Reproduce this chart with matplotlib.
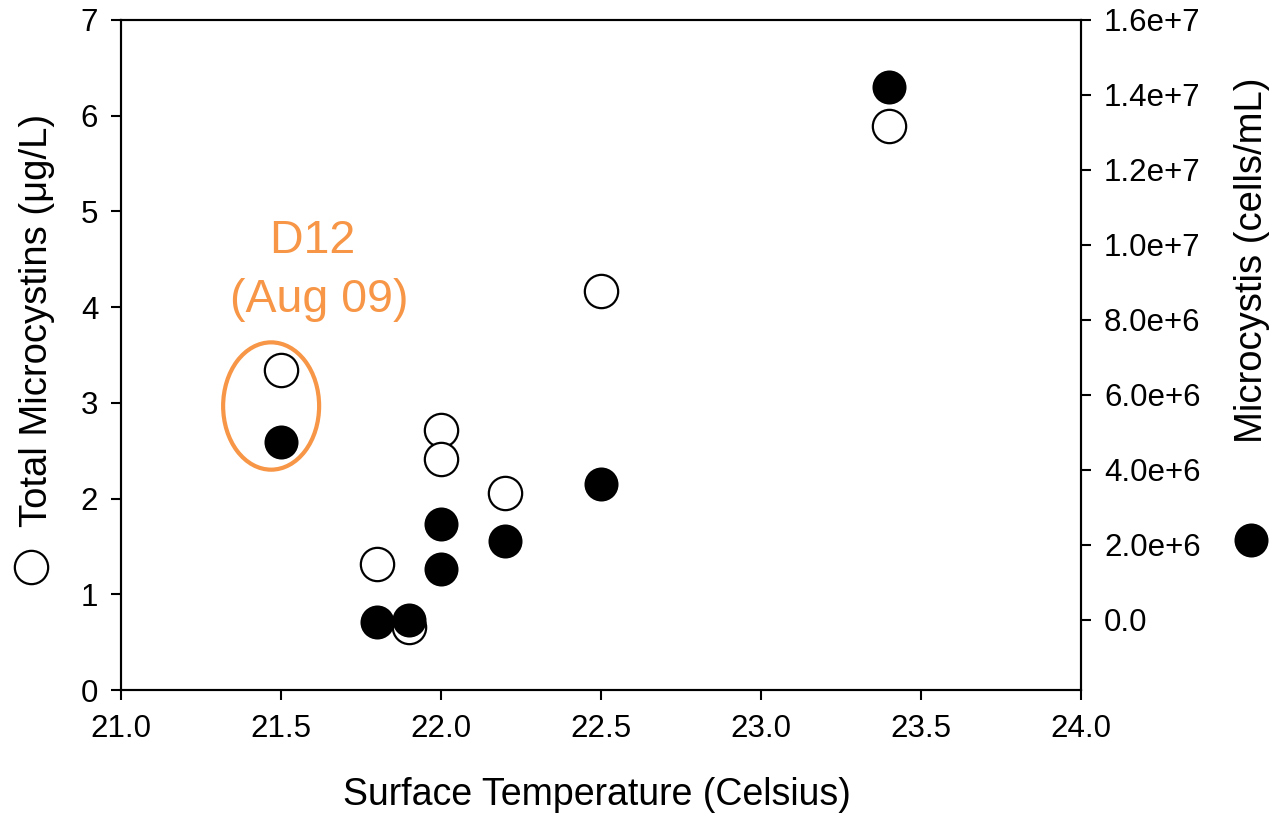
import numpy as np
import matplotlib
matplotlib.use('Agg')
import matplotlib.pyplot as plt
from matplotlib.patches import Ellipse
from matplotlib.lines import Line2D
from matplotlib.ticker import FuncFormatter

plt.rcParams['font.family'] = ['Liberation Sans', 'DejaVu Sans']

# Data
temp_mc = [21.5, 21.8, 21.9, 22.0, 22.0, 22.2, 22.5, 23.4]
microcystins = [3.34, 1.32, 0.66, 2.72, 2.41, 2.06, 4.17, 5.89]  # ug/L (open circles)

temp_cells = [21.5, 21.8, 21.9, 22.0, 22.0, 22.2, 22.5, 23.4]
microcystis = [4.74e6, -0.05e6, 0.0, 2.56e6, 1.35e6, 2.10e6, 3.62e6, 14.22e6]  # cells/mL (filled)

x_ticks = [21.0, 21.5, 22.0, 22.5, 23.0, 23.5, 24.0]
left_ticks = [0, 1, 2, 3, 4, 5, 6, 7]
right_ticks = [0, 2e6, 4e6, 6e6, 8e6, 1e7, 1.2e7, 1.4e7, 1.6e7]

orange = '#F79646'

fig = plt.figure(figsize=(12.77, 8.19), dpi=100)
ax = fig.add_axes([0.0948, 0.1575, 0.7517, 0.8181])
ax2 = ax.twinx()

ax.plot(temp_mc, microcystins, 'o', ms=24, mfc='white', mec='black', mew=1.6, clip_on=False)
ax2.plot(temp_cells, microcystis, 'o', ms=24.5, mfc='black', mec='black', mew=0, clip_on=False)

ax.set_xlim(21.0, 24.0)
ax.set_ylim(0, 7)
ax2.set_ylim(-1.867e6, 1.6e7)
ax.set_xticks(x_ticks)
ax.set_xticklabels([f"{t:.1f}" for t in x_ticks])
ax.set_yticks(left_ticks)
ax2.set_yticks(right_ticks)


def sci_fmt(v, pos):
    if v == 0:
        return "0.0"
    exp = int(np.floor(np.log10(abs(v))))
    return f"{v / 10**exp:.1f}e+{exp}"


ax2.yaxis.set_major_formatter(FuncFormatter(sci_fmt))

for a in (ax, ax2):
    for s in a.spines.values():
        s.set_linewidth(1.5)
ax.tick_params(axis='both', direction='out', length=7.5, width=1.5, labelsize=22.5)
ax.tick_params(axis='y', pad=9)
ax.tick_params(axis='x', pad=10)
ax2.tick_params(axis='y', direction='out', length=7.5, width=1.5, labelsize=22.5, pad=9)

# annotation: D12 (Aug 09)
ax.add_patch(Ellipse((21.469, 2.967), 0.30, 1.33, fill=False, ec=orange, lw=3))
ax.text(21.619, 4.566, "D12 ", color=orange, fontsize=33.5, ha='center', va='baseline')
ax.text(21.619, 3.949, "(Aug 09)", color=orange, fontsize=33.5, ha='center', va='baseline')

# axis titles with their symbols
fig.text(0.4675, 0.0165, "Surface Temperature (Celsius)", fontsize=27, ha='center', va='baseline')
fig.text(0.029, 0.3565, "Total Microcystins (\u03bcg/L)", fontsize=27.5, rotation=90,
         ha='center', va='bottom')
fig.add_artist(Line2D([0.0243], [0.3077], transform=fig.transFigure, marker='o', ms=24,
                      mfc='white', mec='black', mew=1.6, ls='none'))
fig.text(0.9805, 0.459, "Microcystis (cells/mL)", fontsize=27.5, rotation=90,
         ha='center', va='bottom')
fig.add_artist(Line2D([0.9796], [0.3407], transform=fig.transFigure, marker='o', ms=24.5,
                      mfc='black', mec='black', mew=0, ls='none'))

fig.savefig('out.png', dpi=100)
